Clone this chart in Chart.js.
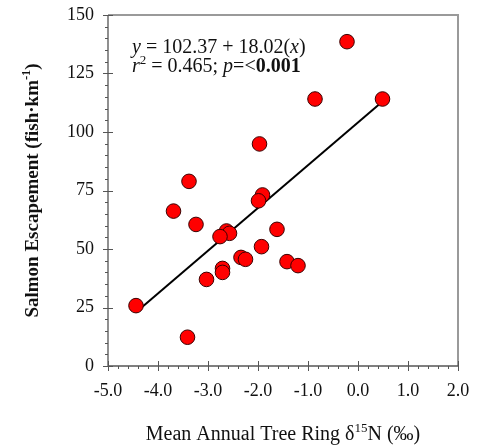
<!DOCTYPE html>
<html>
<head>
<meta charset="utf-8">
<script src="https://cdn.jsdelivr.net/npm/chart.js@4"></script>
<style>
  html, body { margin: 0; padding: 0; background: #fff; }
  #wrap { width: 478px; height: 446px; }
</style>
</head>
<body>
<div id="wrap"><canvas id="grafico"></canvas></div>
<script>
// dados
const deltaN15 = [-0.22, -0.86, 0.49, -1.97, -3.38, -1.91, -1.99, -3.69, -3.24, -2.63, -2.57, -2.76,
                  -1.62, -1.93, -2.34, -2.25, -2.71, -2.71, -3.03, -1.42, -1.20, -4.44, -3.41];
const escapement = [138.6, 114.1, 114.1, 94.9, 78.9, 73.1, 70.6, 66.2, 60.5, 57.7, 56.7, 55.3,
                    58.4, 51.0, 46.4, 45.6, 41.7, 40.0, 37.0, 44.6, 42.9, 25.8, 12.3];
// reta de regressão (extremos)
const retaX = [-4.44, 0.49];
const retaY = [23.0, 113.0];
const xTicks = [-5, -4, -3, -2, -1, 0, 1, 2];
const yTicks = [0, 25, 50, 75, 100, 125, 150];

const serif = '"Liberation Serif", "Times New Roman", serif';

const pontos = deltaN15.map((x, i) => ({ x: x, y: escapement[i] }));
const reta = retaX.map((x, i) => ({ x: x, y: retaY[i] }));

// texto com partes em itálico/negrito/sobrescrito
function desenhaPartes(c, partes, x, y, size) {
    let px = x;
    for (const p of partes) {
        const sz = p.sup ? size * 0.65 : size;
        c.font = (p.it ? 'italic ' : '') + (p.b ? 'bold ' : '') + sz + 'px ' + serif;
        c.fillText(p.t, px, p.sup ? y - size * 0.4 : y);
        px += c.measureText(p.t).width;
    }
    return px - x;
}
function larguraPartes(c, partes, size) {
    let w = 0;
    for (const p of partes) {
        const sz = p.sup ? size * 0.65 : size;
        c.font = (p.it ? 'italic ' : '') + (p.b ? 'bold ' : '') + sz + 'px ' + serif;
        w += c.measureText(p.t).width;
    }
    return w;
}

const eixosPlugin = {
    id: 'eixos',
    afterDatasetsDraw(chart) {
        const c = chart.ctx;
        const a = chart.chartArea;
        const sx = chart.scales.x;
        const sy = chart.scales.y;
        c.save();
        // moldura superior/direita
        c.strokeStyle = '#9a9a9a';
        c.lineWidth = 2;
        c.beginPath();
        c.moveTo(a.left, a.top);
        c.lineTo(a.right, a.top);
        c.lineTo(a.right, a.bottom);
        c.stroke();
        // eixos
        c.strokeStyle = '#555';
        c.lineWidth = 1.3;
        c.beginPath();
        c.moveTo(a.left, a.top);
        c.lineTo(a.left, a.bottom);
        c.lineTo(a.right, a.bottom);
        c.stroke();
        // marcas x
        c.lineWidth = 1;
        c.beginPath();
        for (let v = -5; v <= 2.0001; v += 0.2) {
            const px = Math.round(sx.getPixelForValue(v)) + 0.5;
            const major = Math.abs(v - Math.round(v)) < 1e-6;
            c.moveTo(px, a.bottom + (major ? 5 : 3));
            c.lineTo(px, a.bottom - (major ? 5 : 0));
        }
        // marcas y
        for (let v = 0; v <= 150.001; v += 5) {
            const py = Math.round(sy.getPixelForValue(v)) + 0.5;
            const major = v % 25 === 0;
            c.moveTo(a.left - (major ? 5 : 3), py);
            c.lineTo(a.left + (major ? 5 : 0), py);
        }
        c.stroke();

        // equação
        c.fillStyle = '#111';
        c.textBaseline = 'alphabetic';
        c.textAlign = 'left';
        desenhaPartes(c, [
            { t: 'y', it: true }, { t: ' = 102.37 + 18.02(' }, { t: 'x', it: true }, { t: ')' }
        ], a.left + 24, a.top + 38, 20);
        desenhaPartes(c, [
            { t: 'r', it: true }, { t: '2', sup: true }, { t: ' = 0.465; ' }, { t: 'p', it: true },
            { t: '=<' }, { t: '0.001', b: true }
        ], a.left + 24, a.top + 57, 20);

        // título x
        const tx = [{ t: 'Mean Annual Tree Ring δ' }, { t: '15', sup: true }, { t: 'N (‰)' }];
        const wx = larguraPartes(c, tx, 20);
        desenhaPartes(c, tx, (a.left + a.right) / 2 - wx / 2, 440, 20);

        // título y
        const ty = [{ t: 'Salmon Escapement (fish·km', b: true }, { t: '-1', b: true, sup: true }, { t: ')', b: true }];
        const wy = larguraPartes(c, ty, 19);
        c.translate(38, (a.top + a.bottom) / 2);
        c.rotate(-Math.PI / 2);
        desenhaPartes(c, ty, -wy / 2, 0, 19);
        c.restore();
    }
};

new Chart(document.getElementById('grafico'), {
    type: 'scatter',
    data: {
        datasets: [
            {
                label: 'Observado',
                data: pontos,
                backgroundColor: '#ff0000',
                borderColor: '#3a0000',
                borderWidth: 1,
                pointRadius: 7.3,
                order: 1
            },
            {
                type: 'line',
                label: 'Regressão',
                data: reta,
                borderColor: '#000',
                borderWidth: 2,
                pointRadius: 0,
                fill: false,
                order: 2
            }
        ]
    },
    options: {
        responsive: true,
        maintainAspectRatio: false,
        animation: false,
        events: [],
        layout: { padding: { left: 0, top: 15, right: 20, bottom: 0 } },
        plugins: {
            legend: { display: false },
            tooltip: { enabled: false }
        },
        scales: {
            x: {
                type: 'linear',
                min: -5,
                max: 2,
                afterFit: (s) => { s.height = 80; s.paddingLeft = 0; s.paddingRight = 0; },
                afterBuildTicks: (s) => { s.ticks = xTicks.map(v => ({ value: v })); },
                grid: { display: false, drawTicks: false },
                border: { display: false },
                ticks: {
                    padding: 14,
                    color: '#111',
                    font: { family: serif, size: 18 },
                    callback: (v) => Number(v).toFixed(1)
                }
            },
            y: {
                min: 0,
                max: 150,
                afterFit: (s) => { s.width = 108; s.paddingTop = 0; s.paddingBottom = 0; },
                afterBuildTicks: (s) => { s.ticks = yTicks.map(v => ({ value: v })); },
                grid: { display: false, drawTicks: false },
                border: { display: false },
                ticks: {
                    padding: 14,
                    color: '#111',
                    font: { family: serif, size: 18 }
                }
            }
        }
    },
    plugins: [eixosPlugin]
});
</script>
</body>
</html>
